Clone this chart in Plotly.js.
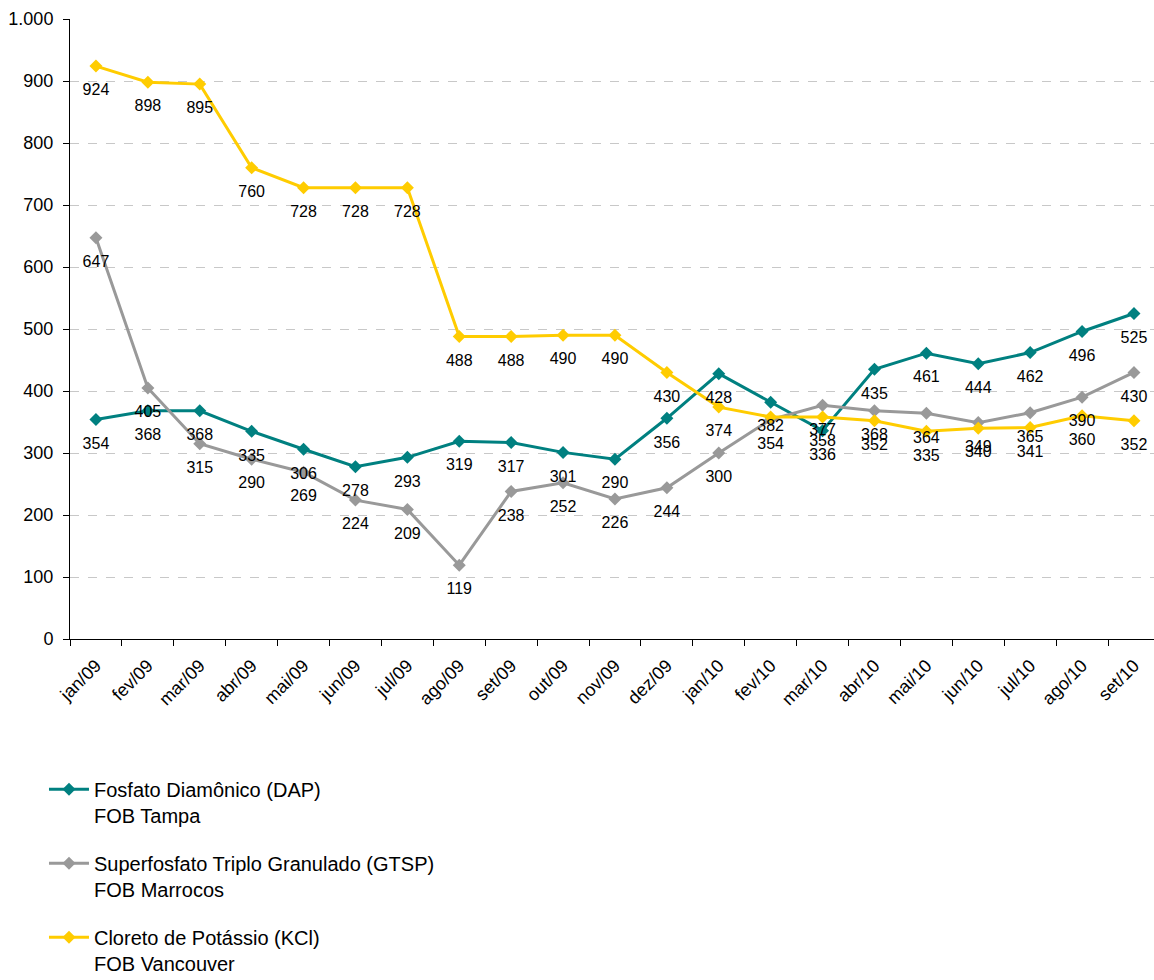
<!DOCTYPE html>
<html>
<head>
<meta charset="utf-8">
<script src="https://cdn.plot.ly/plotly-3.0.1.min.js"></script>
<style>
  html, body { margin: 0; padding: 0; background: #fff; overflow: hidden; }
  #chart { width: 1154px; height: 1010px; }
</style>
</head>
<body>
<div id="chart"></div>
<script>
const months = ['jan/09','fev/09','mar/09','abr/09','mai/09','jun/09','jul/09','ago/09','set/09','out/09','nov/09','dez/09',
                'jan/10','fev/10','mar/10','abr/10','mai/10','jun/10','jul/10','ago/10','set/10'];
const dap  = [354, 368, 368, 335, 306, 278, 293, 319, 317, 301, 290, 356, 428, 382, 336, 435, 461, 444, 462, 496, 525];
const gtsp = [647, 405, 315, 290, 269, 224, 209, 119, 238, 252, 226, 244, 300, 354, 377, 368, 364, 349, 365, 390, 430];
const kcl  = [924, 898, 895, 760, 728, 728, 728, 488, 488, 490, 490, 430, 374, 358, 358, 352, 335, 340, 341, 360, 352];
const seriesNames = [
  'Fosfato Diamônico (DAP)<br>FOB Tampa',
  'Superfosfato Triplo Granulado (GTSP)<br>FOB Marrocos',
  'Cloreto de Potássio (KCl)<br>FOB Vancouver'
];
// data labels hidden behind another label in the original (per series)
const hiddenLabels = [[], [], ['fev/10']];
const seriesValues = [dap, gtsp, kcl];
const seriesColors = ['#008080', '#999999', '#FFCC00'];

const FONT = 'Arial, "Liberation Sans", sans-serif';
const traces = [];
seriesValues.forEach((vals, i) => {
  traces.push({
    type: 'scatter', mode: 'lines+markers',
    x: months, y: vals, name: seriesNames[i],
    legendgroup: 'g' + i,
    line: { color: seriesColors[i], width: 3 },
    marker: { symbol: 'diamond', size: 10, color: seriesColors[i] },
    hoverinfo: 'x+y'
  });
});
seriesValues.forEach((vals, i) => {
  traces.push({
    type: 'scatter', mode: 'markers+text',
    x: months, y: vals, showlegend: false,
    text: vals.map((v, k) => hiddenLabels[i].includes(months[k]) ? '' : String(v)),
    textposition: 'bottom center',
    textfont: { family: FONT, size: 16, color: '#000' },
    marker: { size: 26, color: 'rgba(0,0,0,0)' },
    hoverinfo: 'skip', cliponaxis: false
  });
});

const layout = {
  width: 1154, height: 1010,
  margin: { l: 70, r: 0, t: 19, b: 371 },
  paper_bgcolor: '#fff', plot_bgcolor: '#fff',
  separators: ',.',
  font: { family: FONT, size: 16, color: '#000' },
  showlegend: true,
  legend: {
    x: -0.024, xanchor: 'left', y: -0.211, yanchor: 'top',
    font: { family: FONT, size: 20, color: '#000' },
    itemwidth: 40,
    valign: 'top', tracegroupgap: 19, bgcolor: 'rgba(0,0,0,0)'
  },
  xaxis: {
    type: 'category', range: [-0.5, 20.386],
    showline: true, linecolor: '#000', linewidth: 1,
    ticks: 'outside', ticklen: 6, tickcolor: '#000', tickson: 'boundaries',
    tickangle: -45, tickfont: { family: FONT, size: 18 }, ticklabelstandoff: 8,
    showgrid: false, zeroline: false
  },
  yaxis: {
    range: [0, 1000], dtick: 100, separatethousands: true,
    showline: true, linecolor: '#000', linewidth: 1,
    ticks: 'outside', ticklen: 6, tickcolor: '#000',
    tickfont: { family: FONT, size: 18 }, ticklabelstandoff: 6,
    showgrid: true, gridcolor: '#c8c8c8', griddash: 'dash', gridwidth: 1,
    zeroline: false
  }
};

Plotly.newPlot('chart', traces, layout, { displayModeBar: false, staticPlot: true });
</script>
</body>
</html>
